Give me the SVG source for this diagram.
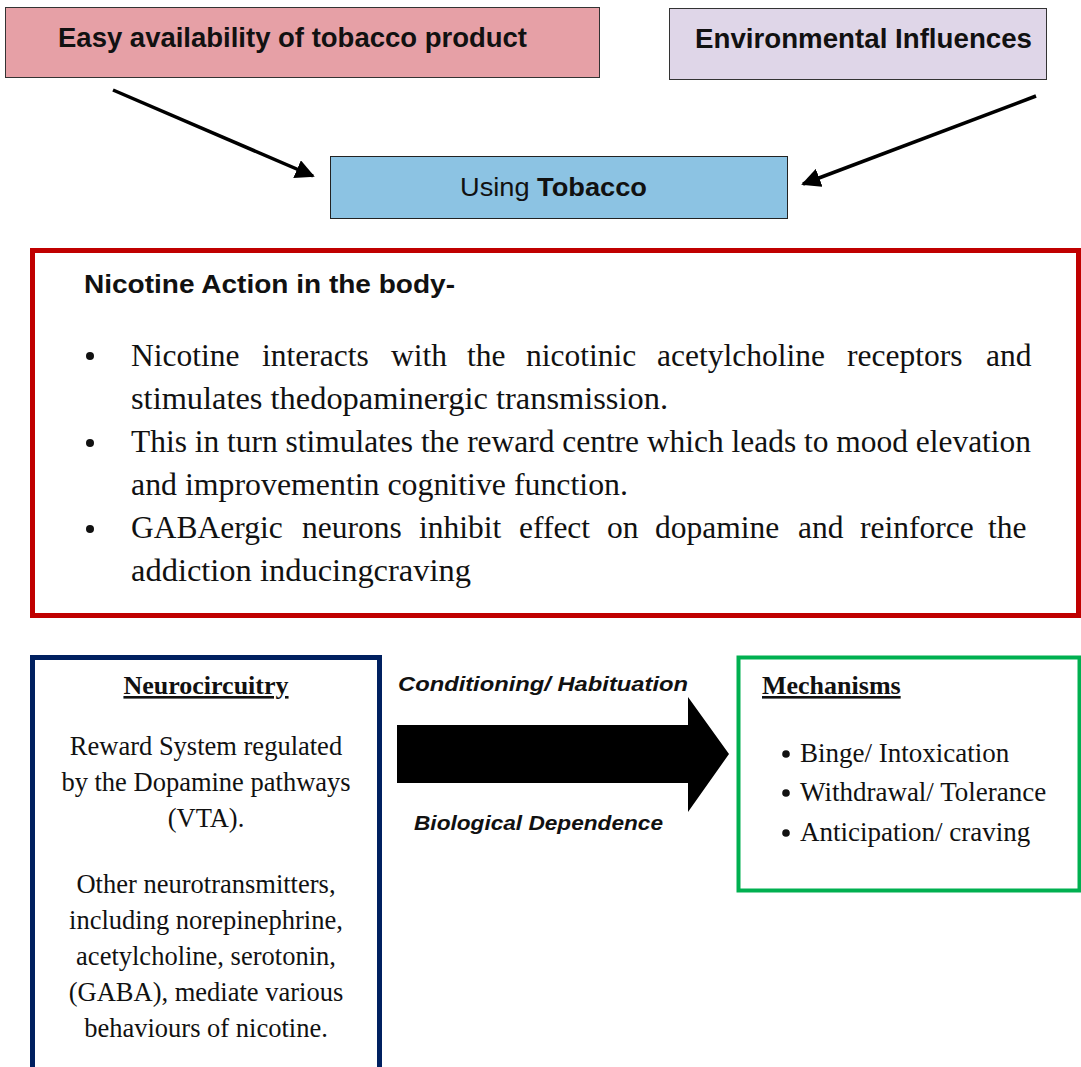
<svg xmlns="http://www.w3.org/2000/svg" width="1081" height="1067" viewBox="0 0 1081 1067">
  <defs>
    <marker id="arrowhead" viewBox="0 0 10 10" refX="9" refY="5" markerWidth="5.5" markerHeight="5.5" orient="auto" markerUnits="strokeWidth">
      <path d="M0,0 L10,5 L0,10 z" fill="#000"/>
    </marker>
    <style>
      .sans-b { font-family: "Liberation Sans", "Open Sans", sans-serif; font-weight: bold; fill: #111; }
      .sans { font-family: "Liberation Sans", "Open Sans", sans-serif; fill: #111; }
      .serif { font-family: "Liberation Serif", "Times New Roman", serif; fill: #111; }
      .label-bi { font-family: "Liberation Sans", sans-serif; font-weight: bold; font-style: italic; font-size: 21px; fill: #111; }
      .conn { stroke: #000; stroke-width: 3.5; fill: none; }
    </style>
  </defs>
  <rect width="1081" height="1067" fill="#fff"/>

  <!-- top source boxes -->
  <g id="node-availability">
    <rect x="5.5" y="7.5" width="594" height="70" fill="#e6a0a6" stroke="#333" stroke-width="1"/>
    <text class="sans-b" x="58" y="47" font-size="27" textLength="469" lengthAdjust="spacingAndGlyphs">Easy availability of tobacco product</text>
  </g>
  <g id="node-environment">
    <rect x="669.5" y="8.5" width="377" height="71" fill="#dfd6e8" stroke="#333" stroke-width="1"/>
    <text class="sans-b" x="695" y="48" font-size="27" textLength="337" lengthAdjust="spacingAndGlyphs">Environmental Influences</text>
  </g>
  <g id="node-using">
    <rect x="330.5" y="156.5" width="457" height="62" fill="#8cc3e3" stroke="#222" stroke-width="1"/>
    <text class="sans" x="460" y="196" font-size="26" textLength="187" lengthAdjust="spacingAndGlyphs">Using <tspan font-weight="bold">Tobacco</tspan></text>
  </g>

  <!-- connectors -->
  <g id="connectors">
    <line class="conn" x1="113" y1="90" x2="313" y2="176" marker-end="url(#arrowhead)"/>
    <line class="conn" x1="1036" y1="96" x2="803" y2="184" marker-end="url(#arrowhead)"/>
    <polygon points="397,725 688,725 688,697 729,754 688,812 688,783 397,783" fill="#000"/>
    <text class="label-bi" x="398" y="691" textLength="290" lengthAdjust="spacingAndGlyphs">Conditioning/ Habituation</text>
    <text class="label-bi" x="414" y="830" textLength="249" lengthAdjust="spacingAndGlyphs">Biological Dependence</text>
  </g>

  <!-- nicotine action panel -->
  <g id="node-nicotine-action">
    <rect x="32.5" y="250.5" width="1046" height="365" fill="#fff" stroke="#c00000" stroke-width="5"/>
    <text class="sans-b" x="84" y="293" font-size="26" textLength="371" lengthAdjust="spacingAndGlyphs">Nicotine Action in the body-</text>
    <circle cx="90" cy="356" r="4" fill="#111"/>
    <circle cx="90" cy="443" r="4" fill="#111"/>
    <circle cx="90" cy="529" r="4" fill="#111"/>
    <!-- body text; justified lines place each word -->
    <g class="serif" font-size="31.5">
      <text y="366"><tspan x="131">Nicotine</tspan><tspan x="262">interacts</tspan><tspan x="391">with</tspan><tspan x="467">the</tspan><tspan x="526">nicotinic</tspan><tspan x="657">acetylcholine</tspan><tspan x="847">receptors</tspan><tspan x="986">and</tspan></text>
      <text x="131" y="409" textLength="537" lengthAdjust="spacingAndGlyphs">stimulates  thedopaminergic transmission.</text>
      <text x="131" y="452" textLength="900" lengthAdjust="spacingAndGlyphs">This in turn stimulates the reward centre which leads to mood elevation</text>
      <text x="131" y="495" textLength="497" lengthAdjust="spacingAndGlyphs">and improvementin cognitive function.</text>
      <text y="538"><tspan x="131">GABAergic</tspan><tspan x="302">neurons</tspan><tspan x="419">inhibit</tspan><tspan x="519">effect</tspan><tspan x="607">on</tspan><tspan x="655">dopamine</tspan><tspan x="798">and</tspan><tspan x="860">reinforce</tspan><tspan x="988">the</tspan></text>
      <text x="131" y="581" textLength="340" lengthAdjust="spacingAndGlyphs">addiction  inducingcraving</text>
    </g>
  </g>

  <!-- neurocircuitry panel -->
  <g id="node-neurocircuitry">
    <rect x="32.5" y="657.5" width="347" height="414" fill="#fff" stroke="#002060" stroke-width="5"/>
    <text class="serif" x="206" y="694" font-size="26" font-weight="bold" text-anchor="middle" text-decoration="underline">Neurocircuitry</text>
    <g class="serif" font-size="26.5" text-anchor="middle">
      <text x="206" y="755">Reward System regulated</text>
      <text x="206" y="791">by the Dopamine pathways</text>
      <text x="206" y="827">(VTA).</text>
      <text x="206" y="893">Other neurotransmitters,</text>
      <text x="206" y="929">including norepinephrine,</text>
      <text x="206" y="965">acetylcholine, serotonin,</text>
      <text x="206" y="1001">(GABA), mediate various</text>
      <text x="206" y="1037">behaviours of nicotine.</text>
    </g>
  </g>

  <!-- mechanisms panel -->
  <g id="node-mechanisms">
    <rect x="738.5" y="657.5" width="341" height="233" fill="#fff" stroke="#00b050" stroke-width="4"/>
    <text class="serif" x="762" y="694" font-size="26" font-weight="bold" text-decoration="underline">Mechanisms</text>
    <g class="serif" font-size="27">
      <circle cx="786" cy="754" r="3.8" fill="#111"/>
      <circle cx="786" cy="793" r="3.8" fill="#111"/>
      <circle cx="786" cy="833" r="3.8" fill="#111"/>
      <text x="800" y="762">Binge/ Intoxication</text>
      <text x="800" y="801">Withdrawal/ Tolerance</text>
      <text x="800" y="841">Anticipation/ craving</text>
    </g>
  </g>
</svg>
